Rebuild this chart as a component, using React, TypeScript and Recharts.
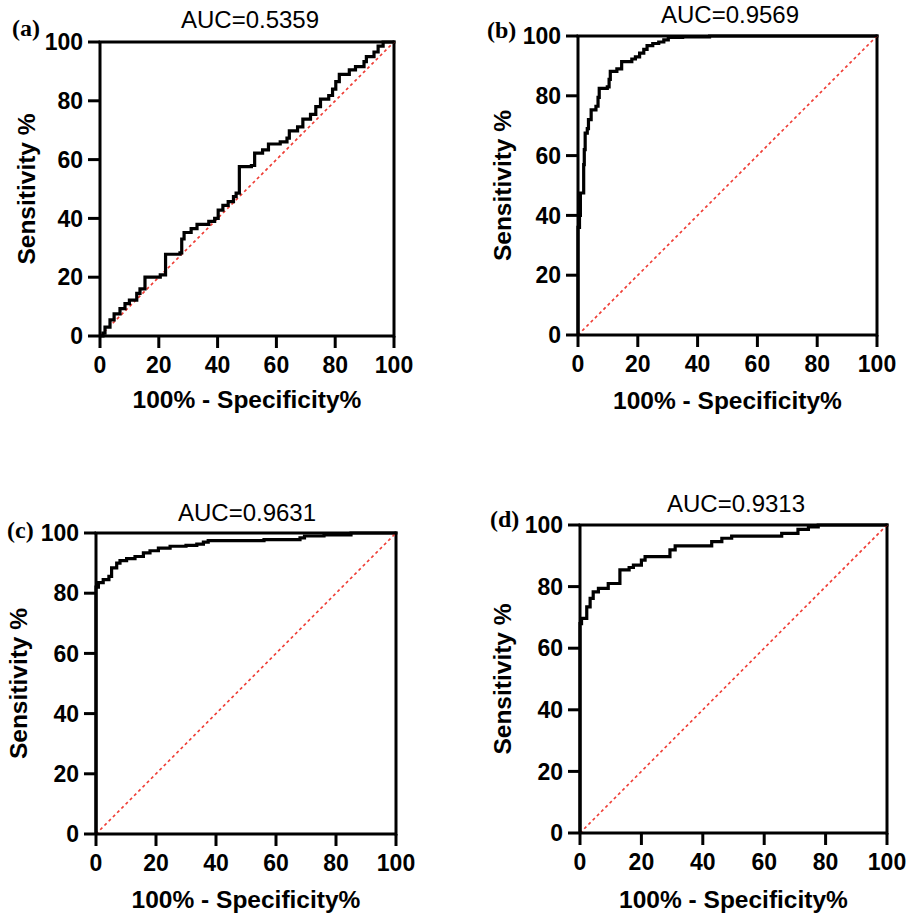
import { LineChart, Line, XAxis, YAxis, ReferenceLine } from "recharts";

const TICKS = [0, 20, 40, 60, 80, 100];
const X_TITLE = "100% - Specificity%";
const Y_TITLE = "Sensitivity %";

// chance diagonal
const CHANCE_FPR = [0, 100];
const CHANCE_SENS = [0, 100];

// (a)
const A_FPR = [
  0, 1, 1.7, 3.4, 4.8, 6.8, 8.5, 10, 12.5, 13.6, 15.3, 20.5, 22.3, 27.2, 27.8,
  28.6, 31, 33, 37, 39, 40.2, 41.8, 43.6, 45.4, 46.3, 47.4, 51.5, 52.6, 55.3,
  57.3, 61.3, 63.6, 64.4, 67.2, 69, 71.6, 73.4, 75, 77.8, 79.1, 80.2, 81.4,
  84.8, 86.9, 89.8, 90.6, 93.2, 94.6, 96.3, 100,
];
const A_SENS = [
  0, 1, 3, 5.5, 7.5, 9.3, 11, 12.2, 14.5, 16, 20, 20.8, 27.8, 28.3, 33, 35.2,
  36.5, 38, 39, 40, 42.8, 44.4, 45.7, 47.4, 48.6, 57.6, 58, 62.2, 63.3, 65.3,
  66, 67.3, 69.8, 71.1, 73.8, 75.4, 78, 80.6, 81.8, 84, 86.5, 89, 90.5, 91.6,
  93.3, 95, 96.6, 98.6, 100, 100,
];

// (b)
const B_FPR = [
  0, 0, 0.5, 0.8, 1.9, 2.1, 2.4, 3.1, 3.5, 4.4, 6, 6.7, 7.1, 9.8, 10.4, 10.8,
  13, 14.6, 18, 19.2, 20.6, 22, 23.1, 25, 27, 28.7, 30.2, 35, 44, 100,
];
const B_SENS = [
  0, 36, 40, 47.5, 57, 62, 67.5, 69, 72, 75.3, 76.5, 79.5, 82.5, 83, 85.5, 88.2,
  89, 91.4, 92.3, 93, 94.3, 95.5, 96.8, 97.5, 98, 98.7, 99.5, 99.7, 100, 100,
];

// (c)
const C_FPR = [
  0, 0, 0.8, 2.4, 4.3, 5.2, 6.9, 8, 10.2, 13, 15.8, 18, 20.8, 24.7, 30, 33.6,
  35.8, 37.4, 56, 68, 69.5, 76, 85, 100,
];
const C_SENS = [
  0, 82, 83.5, 84.5, 85.6, 88.4, 90, 90.8, 91.5, 92.2, 93.4, 94.1, 95, 95.6,
  95.9, 96.3, 97, 97.5, 97.8, 98.4, 99, 99.4, 100, 100,
];

// (d)
const D_FPR = [
  0, 0, 0.5, 2.2, 3.3, 4.3, 6, 9.2, 13, 16, 17.4, 20, 21.2, 29.3, 31, 42.9,
  46.2, 49.4, 65.7, 71, 74.4, 77.6, 100,
];
const D_SENS = [
  0, 68, 69.7, 73.4, 76.2, 78.3, 79.4, 81, 85.4, 86.2, 87, 88.6, 89.7, 91.9,
  93.2, 94.6, 95.7, 96.4, 97.3, 98.6, 99.4, 100, 100,
];

const TAGS = ["(a)", "(b)", "(c)", "(d)"];
const AUCS = ["AUC=0.5359", "AUC=0.9569", "AUC=0.9631", "AUC=0.9313"];

const SANS = '"Liberation Sans", Arial, Helvetica, sans-serif';
const SERIF = '"Liberation Serif", "Times New Roman", serif';

const TOP = 20;
const RIGHT = 20;
const BOTTOM = 82;

type Layout = {
  plotLeft: number;
  plotTop: number;
  w: number;
  h: number;
  axisW: number;
  yTitleX: number;
  xTitleBase: number;
  aucX: number;
  aucY: number;
  tagX: number;
  tagY: number;
};

const LAYOUTS: Layout[] = [
  { plotLeft: 100, plotTop: 42, w: 294, h: 294, axisW: 100, yTitleX: 26, xTitleBase: 408, aucX: 250, aucY: 20, tagX: 12, tagY: 30 },
  { plotLeft: 578, plotTop: 36, w: 299, h: 299, axisW: 108, yTitleX: 502, xTitleBase: 409, aucX: 730, aucY: 15, tagX: 487, tagY: 31.5 },
  { plotLeft: 96, plotTop: 533, w: 300, h: 301, axisW: 96, yTitleX: 18.5, xTitleBase: 908, aucX: 247, aucY: 513, tagX: 7, tagY: 531.5 },
  { plotLeft: 580, plotTop: 525, w: 307, h: 308, axisW: 110, yTitleX: 502, xTitleBase: 908, aucX: 736, aucY: 504, tagX: 490, tagY: 521 },
];

const SERIES = [
  [A_FPR, A_SENS],
  [B_FPR, B_SENS],
  [C_FPR, C_SENS],
  [D_FPR, D_SENS],
];

const toPoints = (fpr: number[], sens: number[]) =>
  fpr.map((x, i) => ({ fpr: x, sens: sens[i] }));

const tickStyle = { fill: "#000", fontSize: 23, fontWeight: 700, fontFamily: SANS };
const axisStroke = { stroke: "#000", strokeWidth: 3 };

type PanelProps = {
  fpr: number[];
  sens: number[];
  auc: string;
  tag: string;
  lay: Layout;
};

function RocPanel({ fpr, sens, auc, tag, lay }: PanelProps) {
  const data = toPoints(fpr, sens);
  const chance = toPoints(CHANCE_FPR, CHANCE_SENS);
  const chartLeft = lay.plotLeft - lay.axisW;
  const chartTop = lay.plotTop - TOP;
  const width = lay.axisW + lay.w + RIGHT;
  const height = TOP + lay.h + BOTTOM;
  const chartBottom = chartTop + height;

  return (
    <>
      <div style={{ position: "absolute", left: chartLeft, top: chartTop }}>
        <LineChart
          width={width}
          height={height}
          margin={{ top: TOP, right: RIGHT, left: 0, bottom: 0 }}
        >
          <XAxis
            type="number"
            dataKey="fpr"
            domain={[0, 100]}
            ticks={TICKS}
            interval={0}
            height={BOTTOM}
            tick={tickStyle}
            tickSize={12}
            tickMargin={9}
            axisLine={axisStroke}
            tickLine={axisStroke}
            label={{
              value: X_TITLE,
              position: "insideBottom",
              offset: chartBottom - lay.xTitleBase,
              fill: "#000",
              fontSize: 24.5,
              fontWeight: 700,
              fontFamily: SANS,
            }}
          />
          <YAxis
            type="number"
            domain={[0, 100]}
            ticks={TICKS}
            interval={0}
            width={lay.axisW}
            tick={tickStyle}
            tickSize={12}
            tickMargin={5}
            axisLine={axisStroke}
            tickLine={axisStroke}
            label={{
              value: Y_TITLE,
              angle: -90,
              position: "insideLeft",
              offset: lay.yTitleX - chartLeft,
              fill: "#000",
              fontSize: 24.5,
              fontWeight: 700,
              fontFamily: SANS,
              style: { textAnchor: "middle" },
            }}
          />
          <ReferenceLine y={100} stroke="#000" strokeWidth={3} strokeLinecap="square" />
          <ReferenceLine x={100} stroke="#000" strokeWidth={3} strokeLinecap="square" />
          <Line
            data={chance}
            dataKey="sens"
            type="linear"
            stroke="#ef3e36"
            strokeWidth={1.7}
            strokeDasharray="3 3"
            dot={false}
            activeDot={false}
            isAnimationActive={false}
          />
          <Line
            data={data}
            dataKey="sens"
            type="stepAfter"
            stroke="#000"
            strokeWidth={3.2}
            dot={false}
            activeDot={false}
            isAnimationActive={false}
          />
        </LineChart>
      </div>
      <div
        style={{
          position: "absolute",
          left: lay.aucX,
          top: lay.aucY - 11.7,
          transform: "translateX(-50%)",
          fontFamily: SANS,
          fontSize: 24,
          lineHeight: 1,
          whiteSpace: "nowrap",
          color: "#000",
        }}
      >
        {auc}
      </div>
      <div
        style={{
          position: "absolute",
          left: lay.tagX,
          top: lay.tagY - 14,
          fontFamily: SERIF,
          fontWeight: 700,
          fontSize: 24,
          lineHeight: 1,
          whiteSpace: "nowrap",
          color: "#000",
        }}
      >
        {tag}
      </div>
    </>
  );
}

export default function App() {
  return (
    <div
      style={{
        position: "absolute",
        left: 0,
        top: 0,
        width: 911,
        height: 916,
        background: "#fff",
        overflow: "hidden",
      }}
    >
      {LAYOUTS.map((lay, i) => (
        <RocPanel
          key={TAGS[i]}
          fpr={SERIES[i][0]}
          sens={SERIES[i][1]}
          auc={AUCS[i]}
          tag={TAGS[i]}
          lay={lay}
        />
      ))}
    </div>
  );
}
